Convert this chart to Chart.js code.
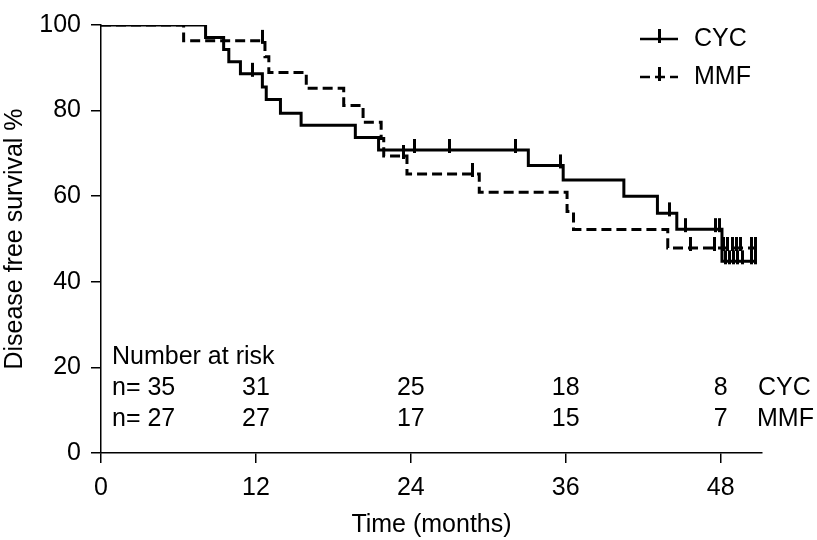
<!DOCTYPE html>
<html>
<head>
<meta charset="utf-8">
<script src="https://cdn.jsdelivr.net/npm/chart.js@4.4.1/dist/chart.umd.min.js"></script>
<style>
  html, body { margin: 0; padding: 0; background: #fff; }
  #wrap { width: 817px; height: 540px; }
</style>
</head>
<body>
<div id="wrap"><canvas id="km" width="817" height="540"></canvas></div>
<script>
const xTicks = [0, 12, 24, 36, 48]

// Kaplan-Meier steps: event time (months) and survival (%) after it
const cycTimes = [0, 8.1, 9.5, 9.9, 10.8, 12.5, 12.8, 13.9, 15.5, 19.7, 21.5, 33.1, 35.8, 40.5, 43.1, 44.6, 48.1, 50.7]
const cycSurv = [100, 97.1, 94.3, 91.4, 88.6, 85.5, 82.6, 79.4, 76.6, 73.7, 70.8, 67.2, 63.8, 60.0, 56.0, 52.3, 44.8, 44.8]
const cycCensored = [11.7, 24.3, 27.0, 32.1, 35.6, 44.0, 45.3, 47.6, 47.9, 48.4, 48.7, 49.0, 49.3, 49.7, 50.4, 50.7]

const mmfTimes = [0, 6.4, 12.7, 13.0, 15.9, 18.8, 20.3, 21.7, 21.9, 23.7, 29.3, 36.1, 36.6, 43.9, 50.7]
const mmfSurv = [100, 96.3, 92.6, 88.9, 85.2, 81.2, 77.3, 73.5, 69.4, 65.2, 60.9, 56.4, 52.2, 47.9, 47.9]
const mmfCensored = [12.5, 23.4, 28.8, 45.7, 47.5, 48.2, 48.5, 48.9, 49.2, 49.5, 50.4, 50.7]

// number at risk table
const riskTimes = [12, 24, 36, 48]
const cycStart = 35
const mmfStart = 27
const cycRisk = [31, 25, 18, 8]
const mmfRisk = [27, 17, 15, 7]

const FONT = '"Liberation Sans", Arial, Helvetica, sans-serif'

const survAt = (times, surv, t) => {
  let s = surv[0]
  times.forEach((tt, i) => { if (tt <= t) s = surv[i] })
  return s
}

// censor mark: short vertical bar sitting mostly above the line
const makeTick = () => {
  const c = document.createElement('canvas')
  c.width = 3
  c.height = 28
  const g = c.getContext('2d')
  g.fillStyle = '#000'
  g.fillRect(0, 3, 3, 14)
  return c
}
const tickImg = makeTick()

const stepData = (times, surv) => times.map((t, i) => ({ x: t, y: surv[i] }))
const censorData = (cens, times, surv) => cens.map((t) => ({ x: t, y: survAt(times, surv, t) }))

const kmExtras = {
  id: 'kmExtras',
  afterDraw(chart) {
    const { ctx, chartArea } = chart
    const x = chart.scales.x
    ctx.save()
    ctx.fillStyle = '#000'
    ctx.strokeStyle = '#000'
    ctx.font = '25px ' + FONT
    ctx.textBaseline = 'middle'

    // number at risk
    const rows = [chartArea.bottom - 96, chartArea.bottom - 65, chartArea.bottom - 34]
    const left = chartArea.left + 11
    ctx.textAlign = 'left'
    ctx.fillText('Number at risk', left, rows[0])
    ctx.fillText('n= ' + cycStart, left, rows[1])
    ctx.fillText('n= ' + mmfStart, left, rows[2])
    ctx.textAlign = 'center'
    riskTimes.forEach((t, i) => {
      ctx.fillText(String(cycRisk[i]), x.getPixelForValue(t), rows[1])
      ctx.fillText(String(mmfRisk[i]), x.getPixelForValue(t), rows[2])
    })
    ctx.textAlign = 'left'
    ctx.fillText('CYC', chartArea.right - 4, rows[1])
    ctx.fillText('MMF', chartArea.right - 5, rows[2])

    // legend
    const lx0 = 640, lx1 = 678, tx = 694
    const items = [{ label: 'CYC', y: 39, dash: [] }, { label: 'MMF', y: 77, dash: [10, 5] }]
    items.forEach((it) => {
      ctx.lineWidth = 2.5
      ctx.setLineDash(it.dash)
      ctx.beginPath()
      ctx.moveTo(lx0, it.y)
      ctx.lineTo(lx1, it.y)
      ctx.stroke()
      ctx.setLineDash([])
      ctx.fillRect(658, it.y - 10, 3, 14)
      ctx.fillText(it.label, tx, it.y)
    })
    ctx.restore()
  },
}

const axisGrid = {
  drawOnChartArea: false,
  drawTicks: true,
  tickLength: 10,
  color: '#000',
  tickColor: '#000',
  lineWidth: 1.5,
}

new Chart(document.getElementById('km').getContext('2d'), {
  type: 'line',
  data: {
    datasets: [
      {
        label: 'CYC',
        data: stepData(cycTimes, cycSurv),
        stepped: 'before',
        borderColor: '#000',
        borderWidth: 3,
        pointRadius: 0,
        fill: false,
      },
      {
        label: 'MMF',
        data: stepData(mmfTimes, mmfSurv),
        stepped: 'before',
        borderColor: '#000',
        borderWidth: 3,
        borderDash: [10, 5],
        pointRadius: 0,
        fill: false,
      },
      {
        type: 'scatter',
        label: 'CYC censored',
        data: censorData(cycCensored, cycTimes, cycSurv),
        pointStyle: tickImg,
        showLine: false,
      },
      {
        type: 'scatter',
        label: 'MMF censored',
        data: censorData(mmfCensored, mmfTimes, mmfSurv),
        pointStyle: tickImg,
        showLine: false,
      },
    ],
  },
  options: {
    responsive: false,
    animation: false,
    devicePixelRatio: 1,
    layout: { padding: { top: 16, right: 55, bottom: 0, left: 0 } },
    plugins: {
      legend: { display: false },
      tooltip: { enabled: false },
    },
    scales: {
      x: {
        type: 'linear',
        min: 0,
        max: 51.2,
        afterBuildTicks: (s) => { s.ticks = xTicks.map((v) => ({ value: v })) },
        afterFit: (s) => { s.height = 87 },
        grid: axisGrid,
        border: { display: true, color: '#000', width: 1.5 },
        ticks: { color: '#000', padding: 10, font: { family: FONT, size: 25 }, maxRotation: 0 },
        title: {
          display: true,
          text: 'Time (months)',
          color: '#000',
          padding: { top: 0, bottom: 0 },
          font: { family: FONT, size: 25 },
        },
      },
      y: {
        min: 0,
        max: 100,
        ticks: { stepSize: 20, color: '#000', padding: 10, font: { family: FONT, size: 25 } },
        afterFit: (s) => { s.width = 101 },
        grid: axisGrid,
        border: { display: true, color: '#000', width: 1.5 },
        title: {
          display: true,
          text: 'Disease free survival %',
          color: '#000',
          padding: { top: 0, bottom: 0 },
          font: { family: FONT, size: 25 },
        },
      },
    },
  },
  plugins: [kmExtras],
})
</script>
</body>
</html>
